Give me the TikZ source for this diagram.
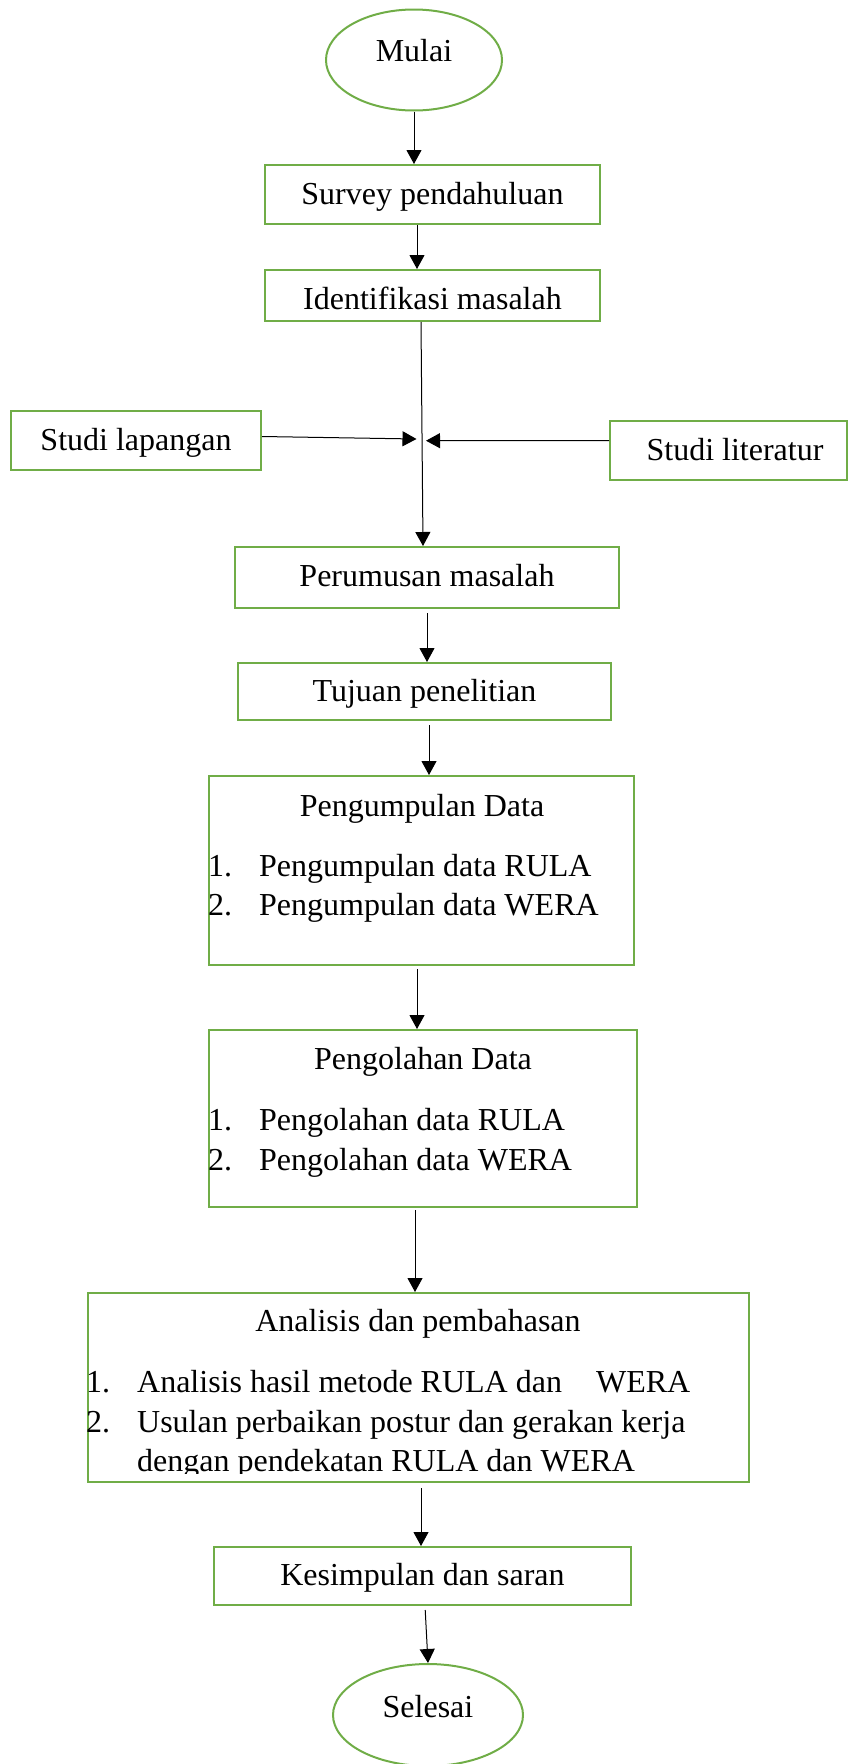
\documentclass[tikz,border=0pt]{standalone}
\usepackage{fontspec}
\setmainfont{Liberation Serif}
\usetikzlibrary{shapes.geometric,arrows.meta}
\definecolor{boxgreen}{HTML}{70AD47}
\begin{document}
\begin{tikzpicture}[x=1pt,y=-1pt,
  font=\fontsize{32}{40}\selectfont,
  box/.style={draw=boxgreen, line width=2pt, rectangle, inner sep=0pt, text height=20pt, text depth=0pt},
  oval/.style={draw=boxgreen, line width=2pt, ellipse, inner sep=0pt},
  txt/.style={inner sep=0pt, anchor=base},
  item/.style={inner sep=0pt, anchor=base west},
  arr/.style={-{Triangle[length=14pt,width=15pt]}, line width=1pt, black}]
\useasboundingbox (0,0) rectangle (849,1764);

% terminals and boxes
\node[oval, minimum width=176pt, minimum height=101pt, text height=19pt, text depth=15.6pt] (mulai) at (414,60) {Mulai};
\node[box, minimum width=335pt, minimum height=59pt, text height=19pt] (survey) at (432.5,194.5) {Survey pendahuluan};
\node[box, minimum width=335pt, minimum height=51pt, text height=27.6pt] (ident) at (432.5,295.5) {Identifikasi masalah};
\node[box, minimum width=250pt, minimum height=59pt] (lap) at (136,440.5) {Studi lapangan};
\node[box, minimum width=237pt, minimum height=59pt] (lit) at (728.5,450.5) {\hspace{13pt}Studi literatur};
\node[box, minimum width=384pt, minimum height=61pt, text height=18.4pt] (rumus) at (427,577.5) {Perumusan masalah};
\node[box, minimum width=373pt, minimum height=57pt] (tujuan) at (424.5,691.5) {Tujuan penelitian};

\node[box, minimum width=425pt, minimum height=189pt] (kumpul) at (421.5,870.5) {};
\node[txt] (kumpulT) at (422,816) {Pengumpulan Data};
\node[item] (kumpul1) at (208,876.7) {\makebox[51pt][l]{1.}Pengumpulan data RULA};
\node[item] (kumpul2) at (208,915) {\makebox[51pt][l]{2.}Pengumpulan data WERA};

\node[box, minimum width=428pt, minimum height=177pt] (olah) at (423,1118.5) {};
\node[txt] (olahT) at (423,1069.3) {Pengolahan Data};
\node[item] (olah1) at (208,1130) {\makebox[51pt][l]{1.}Pengolahan data RULA};
\node[item] (olah2) at (208,1170) {\makebox[51pt][l]{2.}Pengolahan data WERA};

\node[box, minimum width=661pt, minimum height=189pt] (analisis) at (418.5,1387.5) {};
\node[txt] (analisisT) at (418,1331.7) {Analisis dan pembahasan};
\node[item] (analisis1) at (86,1392.7) {\makebox[51pt][l]{1.}Analisis hasil metode RULA dan\hspace{34pt}WERA};
\node[item] (analisis2) at (86,1432.3) {\makebox[51pt][l]{2.}Usulan perbaikan postur dan gerakan kerja};
\begin{scope}
  \clip (0,1300) rectangle (849,1473.5);
  \node[item] (analisis3) at (137,1471.7) {dengan pendekatan RULA dan WERA};
\end{scope}

\node[box, minimum width=417pt, minimum height=58pt, text height=18pt] (simpul) at (422.5,1576) {Kesimpulan dan saran};
\node[oval, minimum width=190pt, minimum height=102pt, text height=19pt, text depth=15pt] (selesai) at (428,1715) {Selesai};

% connectors
\coordinate (lapend) at (416.5,439);
\coordinate (litend) at (426,440.7);
\draw[arr] (mulai.south) -- (mulai.south |- survey.north);
\draw[arr] ([xshift=-15.5pt]survey.south) -- ([xshift=-15.5pt]survey.south |- ident.north);
\draw[arr] ([xshift=-11.5pt]ident.south) -- ([xshift=-4pt]rumus.north);
\draw[arr] ([yshift=4pt]lap.east) -- (lapend);
\draw[arr] ([yshift=10pt]lit.west) -- (litend);
\draw[arr, shorten <=4pt] (rumus.south) -- (rumus.south |- tujuan.north);
\draw[arr, shorten <=4pt] ([xshift=4.5pt]tujuan.south) -- ([xshift=4.5pt]tujuan.south |- kumpul.north);
\draw[arr, shorten <=3pt] ([xshift=-4.5pt]kumpul.south) -- ([xshift=-4.5pt]kumpul.south |- olah.north);
\draw[arr, shorten <=2pt] ([xshift=-8pt]olah.south) -- ([xshift=-8pt]olah.south |- analisis.north);
\draw[arr, shorten <=5pt] ([xshift=2.5pt]analisis.south) -- ([xshift=2.5pt]analisis.south |- simpul.north);
\draw[arr, shorten <=4pt] ([xshift=2.5pt]simpul.south) -- (selesai.north);
\end{tikzpicture}
\end{document}
